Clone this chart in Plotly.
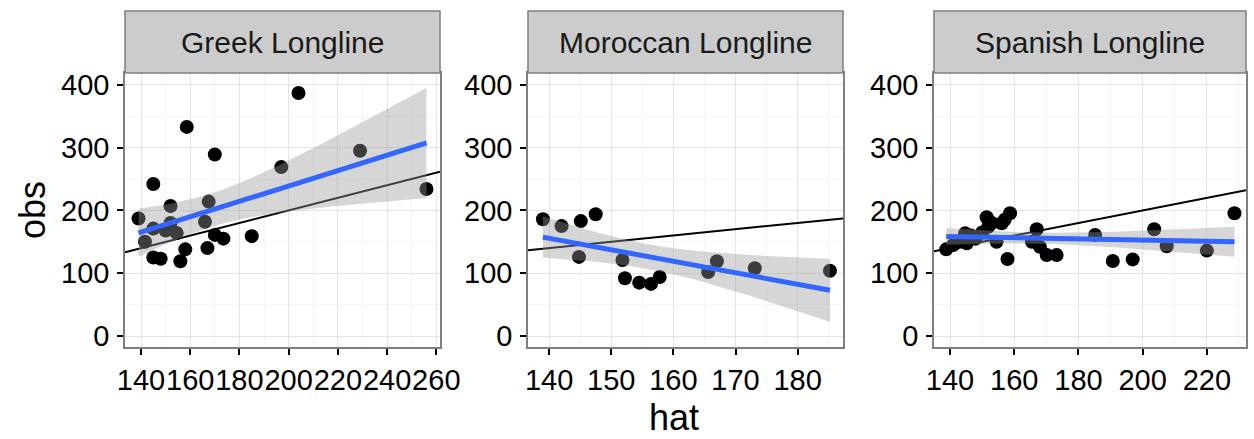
import math
import numpy as np
import plotly.graph_objects as go

# ---------------- data ----------------
panels = ["Greek Longline", "Moroccan Longline", "Spanish Longline"]

greek_hat = [139, 145, 158.6, 170, 204, 197, 229, 256, 152, 167.5, 166, 145, 152,
             154.5, 141.6, 150, 170, 173.5, 185, 158, 167, 145, 148, 156]
greek_obs = [187, 242, 333, 289, 387, 269, 295, 234, 207, 214, 182, 171, 180,
             164, 150, 168, 161, 155, 159, 138, 140, 125, 123, 119]

mor_hat = [139, 142, 145.1, 147.5, 144.8, 151.8, 152.2, 154.5, 156.4, 157.8,
           165.6, 167, 173.1, 185.2]
mor_obs = [186, 175, 183, 194, 126, 121, 92, 85, 83, 94, 102, 119, 108, 104]

sp_hat = [138.8, 141, 143, 144.7, 145.2, 146.5, 148, 150, 151.4, 151.9, 153, 154.5,
          156.1, 157, 158.7, 157.9, 165.5, 167, 168, 170.1, 173.2, 185.2, 190.7,
          196.9, 203.6, 207.5, 220, 228.6]
sp_obs = [138, 145, 150, 163.5, 147.6, 160, 155, 165, 189, 174, 180, 150, 179.5,
          185, 195.4, 122.6, 150, 170, 142, 129, 129, 161, 119.4, 122, 170, 143,
          136, 195.4]

x_ticks = [
    [140, 160, 180, 200, 220, 240, 260],
    [140, 150, 160, 170, 180],
    [140, 160, 180, 200, 220],
]
y_ticks = [0, 100, 200, 300, 400]

# ---------------- layout geometry ----------------
W, H = 1254, 439
x_ranges = [[133.5, 261.5], [136.6, 187.3], [135.0, 232.2]]
y_range = [-17.5, 418.8]
x_px = [(125, 440), (528, 843), (934, 1246)]
y_px = (73, 347)
strip_px = (11, 73)


def t975(v):
    z = 1.959963985
    return (z + (z**3 + z) / (4 * v) + (5 * z**5 + 16 * z**3 + 3 * z) / (96 * v**2)
            + (3 * z**7 + 19 * z**5 + 17 * z**3 - 15 * z) / (384 * v**3))


def lm_band(x, y, n_out=80):
    x = np.asarray(x, float)
    y = np.asarray(y, float)
    n = len(x)
    b, a = np.polyfit(x, y, 1)
    resid = y - (a + b * x)
    s = math.sqrt((resid**2).sum() / (n - 2))
    xm = x.mean()
    sxx = ((x - xm)**2).sum()
    xs = np.linspace(x.min(), x.max(), n_out)
    fit = a + b * xs
    se = s * np.sqrt(1 / n + (xs - xm)**2 / sxx)
    t = t975(n - 2)
    return xs, fit, fit - t * se, fit + t * se


fig = go.Figure()
data = [(greek_hat, greek_obs), (mor_hat, mor_obs), (sp_hat, sp_obs)]

FONT = "Liberation Sans, Arial, sans-serif"
grey50 = "#7F7F7F"

for i, (hx, ob) in enumerate(data):
    xa = "x" if i == 0 else f"x{i+1}"
    ya = "y" if i == 0 else f"y{i+1}"
    # points
    fig.add_trace(go.Scatter(x=hx, y=ob, mode="markers", xaxis=xa, yaxis=ya,
                             marker=dict(color="black", size=14, line=dict(width=0)),
                             showlegend=False, hoverinfo="skip"))
    # identity line
    xr = x_ranges[i]
    fig.add_trace(go.Scatter(x=xr, y=xr, mode="lines", xaxis=xa, yaxis=ya,
                             line=dict(color="black", width=2),
                             showlegend=False, hoverinfo="skip"))
    xs, fit, lo, hi = lm_band(hx, ob)
    fig.add_trace(go.Scatter(x=np.concatenate([xs, xs[::-1]]),
                             y=np.concatenate([hi, lo[::-1]]),
                             mode="lines", fill="toself", xaxis=xa, yaxis=ya,
                             fillcolor="rgba(153,153,153,0.4)", line=dict(width=0),
                             showlegend=False, hoverinfo="skip"))
    fig.add_trace(go.Scatter(x=xs, y=fit, mode="lines", xaxis=xa, yaxis=ya,
                             line=dict(color="#3366FF", width=5),
                             showlegend=False, hoverinfo="skip"))

layout = dict(width=W, height=H, autosize=False,
              margin=dict(l=0, r=0, t=0, b=0, autoexpand=False),
              plot_bgcolor="white", paper_bgcolor="white",
              font=dict(family=FONT, color="black"), shapes=[], annotations=[])

yd = [1 - y_px[1] / H, 1 - y_px[0] / H]
for i in range(3):
    dom = [x_px[i][0] / W, x_px[i][1] / W]
    xk = "xaxis" if i == 0 else f"xaxis{i+1}"
    yk = "yaxis" if i == 0 else f"yaxis{i+1}"
    anchor_y = "y" if i == 0 else f"y{i+1}"
    anchor_x = "x" if i == 0 else f"x{i+1}"
    step = x_ticks[i][1] - x_ticks[i][0]
    layout[xk] = dict(domain=dom, anchor=anchor_y, range=x_ranges[i],
                      automargin=False,
                      tickmode="array", tickvals=x_ticks[i],
                      ticktext=[str(v) for v in x_ticks[i]], tickangle=0,
                      ticks="outside", ticklen=6, tickwidth=1.5, tickcolor="black",
                      tickfont=dict(size=29, color="black", family=FONT),
                      showgrid=True, gridcolor="#E5E5E5", gridwidth=1,
                      minor=dict(tickmode="linear", tick0=x_ticks[i][0] - step / 2,
                                 dtick=step, showgrid=True, gridcolor="#F5F5F5",
                                 gridwidth=1, ticks=""),
                      showline=True, linecolor=grey50, linewidth=1.5, mirror=True,
                      zeroline=False, fixedrange=True)
    layout[yk] = dict(domain=yd, anchor=anchor_x, range=y_range,
                      automargin=False,
                      tickmode="array", tickvals=y_ticks,
                      ticktext=[str(v) for v in y_ticks],
                      ticks="outside", ticklen=6, tickwidth=1.5, tickcolor="black",
                      tickfont=dict(size=29, color="black", family=FONT),
                      ticklabelstandoff=2,
                      showgrid=True, gridcolor="#E5E5E5", gridwidth=1,
                      minor=dict(tickmode="linear", tick0=50, dtick=100,
                                 showgrid=True, gridcolor="#F5F5F5", gridwidth=1,
                                 ticks=""),
                      showline=True, linecolor=grey50, linewidth=1.5, mirror=True,
                      zeroline=False, fixedrange=True)
    # strip
    layout["shapes"].append(dict(type="rect", xref="paper", yref="paper",
                                 x0=dom[0], x1=dom[1],
                                 y0=1 - strip_px[1] / H, y1=1 - strip_px[0] / H,
                                 fillcolor="#CCCCCC", line=dict(color=grey50, width=1.5),
                                 layer="above"))
    layout["annotations"].append(dict(text=panels[i], xref="paper", yref="paper",
                                      x=(dom[0] + dom[1]) / 2,
                                      y=1 - (strip_px[0] + strip_px[1]) / 2 / H,
                                      xanchor="center", yanchor="middle",
                                      showarrow=False,
                                      font=dict(size=30, color="#1A1A1A", family=FONT)))

layout["annotations"].append(dict(text="hat", xref="paper", yref="paper",
                                  x=674 / W, y=1 - 417 / H, xanchor="center",
                                  yanchor="middle", showarrow=False,
                                  font=dict(size=36, color="black", family=FONT)))
layout["annotations"].append(dict(text="obs", xref="paper", yref="paper",
                                  x=33 / W, y=1 - 210 / H, xanchor="center",
                                  yanchor="middle", showarrow=False, textangle=-90,
                                  font=dict(size=36, color="black", family=FONT)))

fig.update_layout(**layout)
fig.write_html("out.html", config={"displayModeBar": False},
               post_script="document.body.style.margin='0';"
                           "document.body.style.overflow='hidden';")
